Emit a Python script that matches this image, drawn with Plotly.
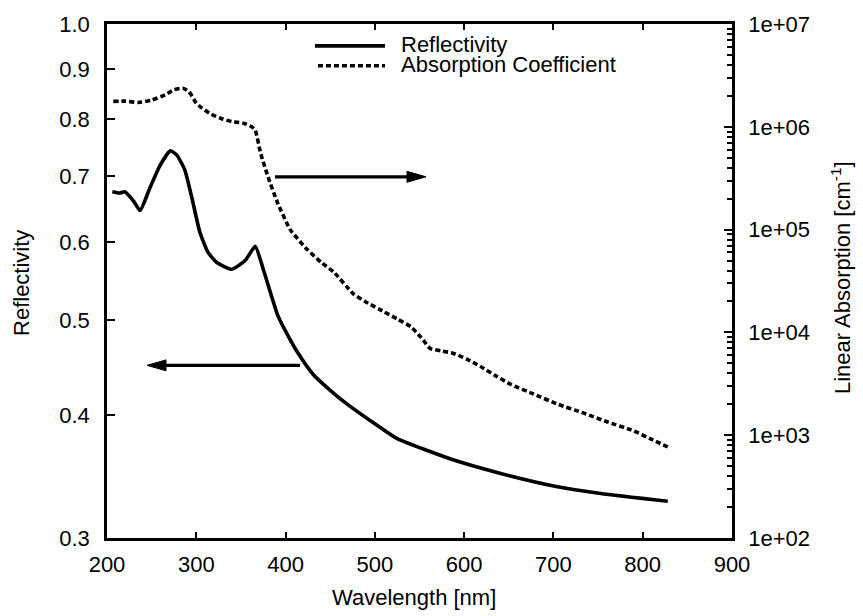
import math
import plotly.graph_objects as go

# ---- data ----
refl_wl = [206, 214, 220, 230, 237, 248, 259, 271, 278, 287, 295, 304, 313, 323, 340,
           355, 366, 375, 391, 400, 413, 431, 450, 469, 500, 525, 585, 641, 703, 753, 828]
refl = [0.675, 0.673, 0.675, 0.660, 0.646, 0.681, 0.717, 0.743, 0.736, 0.711, 0.666,
        0.614, 0.586, 0.572, 0.563, 0.575, 0.594, 0.563, 0.506, 0.487, 0.464, 0.440,
        0.424, 0.4105, 0.392, 0.3786, 0.361, 0.349, 0.3385, 0.333, 0.327]

abs_wl = [207, 220, 235, 250, 265, 275, 285, 292, 300, 304, 315, 327, 340, 353, 362, 366,
          372, 380, 391, 405, 424, 440, 454, 476, 489, 510, 525, 540, 552, 562, 575, 588,
          603, 618, 635, 652, 678, 705, 734, 760, 790, 810, 828]
absorption = [1.766e6, 1.778e6, 1.726e6, 1.820e6, 2.042e6, 2.291e6, 2.371e6, 2.188e6,
              1.698e6, 1.581e6, 1.349e6, 1.211e6, 1.122e6, 1.084e6, 1.0e6, 9.27e5,
              5.56e5, 3.33e5, 1.83e5, 1.005e5, 6.44e4, 4.79e4, 3.86e4, 2.37e4, 2.0e4,
              1.59e4, 1.35e4, 1.14e4, 8.9e3, 6.98e3, 6.6e3, 6.24e3, 5.5e3, 4.68e3,
              3.8e3, 3.13e3, 2.51e3, 2.0e3, 1.64e3, 1.35e3, 1.10e3, 9.1e2, 7.7e2]

x_ticks = [200, 300, 400, 500, 600, 700, 800, 900]
refl_ticks = [0.3, 0.4, 0.5, 0.6, 0.7, 0.8, 0.9, 1.0]
refl_tick_text = ["0.3", "0.4", "0.5", "0.6", "0.7", "0.8", "0.9", "1.0"]
abs_ticks = [1e2, 1e3, 1e4, 1e5, 1e6, 1e7]
abs_tick_text = ["1e+02", "1e+03", "1e+04", "1e+05", "1e+06", "1e+07"]

legend_names = ["Reflectivity", "Absorption Coefficient"]

FONT = "Liberation Sans, Arial, Helvetica, sans-serif"
FS = 22
LW = 3.6

fig = go.Figure()
fig.add_trace(go.Scatter(x=refl_wl, y=refl, mode="lines", name=legend_names[0],
                         line=dict(color="black", width=LW, shape="spline", smoothing=0.5),
                         showlegend=False, yaxis="y"))
fig.add_trace(go.Scatter(x=abs_wl, y=absorption, mode="lines", name=legend_names[1],
                         line=dict(color="black", width=LW, dash="5px,3px",
                                   shape="spline", smoothing=0.5),
                         showlegend=False, yaxis="y2"))

axis_common = dict(showline=True, linecolor="black", linewidth=2.6, ticks="inside",
                   tickcolor="black", tickwidth=2, showgrid=False, zeroline=False,
                   tickfont=dict(family=FONT, size=FS, color="black"))

fig.update_layout(
    width=863, height=616,
    margin=dict(l=107, r=131, t=20, b=78),
    paper_bgcolor="white", plot_bgcolor="white",
    xaxis=dict(range=[200, 900], tickvals=x_ticks, mirror="ticks", ticklen=6,
               ticklabelstandoff=5, **axis_common),
    yaxis=dict(type="log", range=[math.log10(0.3), 0.0], tickvals=refl_ticks,
               ticktext=refl_tick_text, mirror=True, ticklen=8,
               ticklabelstandoff=10, **axis_common),
    yaxis2=dict(type="log", range=[2, 7], tickvals=abs_ticks, ticktext=abs_tick_text,
                overlaying="y", side="right", ticklen=8, ticklabelstandoff=9,
                minor=dict(ticks="inside", ticklen=5, tickcolor="black", tickwidth=1.6,
                           dtick="D1", showgrid=False),
                **axis_common),
    showlegend=False,
)

def px_x(p):
    return (p - 107) / 625.0

def px_y(p):
    return (538 - p) / 518.0

annotations = [
    dict(text="Reflectivity", x=px_x(22), y=px_y(281), xref="paper", yref="paper",
         textangle=-90, showarrow=False, xanchor="center", yanchor="middle",
         font=dict(family=FONT, size=FS, color="black")),
    dict(text="Wavelength [nm]", x=px_x(414), y=px_y(598), xref="paper", yref="paper",
         showarrow=False, xanchor="center", yanchor="middle",
         font=dict(family=FONT, size=FS, color="black")),
    dict(text="Linear Absorption [cm<sup>-1</sup>]", x=px_x(841), y=px_y(276),
         xref="paper", yref="paper", textangle=-90, showarrow=False,
         xanchor="center", yanchor="middle",
         font=dict(family=FONT, size=FS, color="black")),
    # legend text
    dict(text=legend_names[0], x=px_x(399), y=px_y(41), xref="paper", yref="paper",
         showarrow=False, xanchor="left", yanchor="middle",
         font=dict(family=FONT, size=FS, color="black")),
    dict(text=legend_names[1], x=px_x(399), y=px_y(61), xref="paper", yref="paper",
         showarrow=False, xanchor="left", yanchor="middle",
         font=dict(family=FONT, size=FS, color="black")),
]
fig.update_layout(annotations=annotations)

def arrow(x_tail, x_tip, y, head_len=19, half_h=5.5, width=3.2):
    """Horizontal arrow drawn in paper coordinates from pixel positions."""
    sgn = 1 if x_tip > x_tail else -1
    base = x_tip - sgn * head_len
    return [
        dict(type="line", xref="paper", yref="paper", x0=px_x(x_tail), x1=px_x(base),
             y0=px_y(y), y1=px_y(y), line=dict(color="black", width=width)),
        dict(type="path", xref="paper", yref="paper",
             path="M {:.5f},{:.5f} L {:.5f},{:.5f} L {:.5f},{:.5f} Z".format(
                 px_x(x_tip), px_y(y), px_x(base), px_y(y - half_h),
                 px_x(base), px_y(y + half_h)),
             fillcolor="black", line=dict(color="black", width=1)),
    ]

shapes = [
    dict(type="line", xref="paper", yref="paper", x0=px_x(315), x1=px_x(385),
         y0=px_y(42), y1=px_y(42), line=dict(color="black", width=LW)),
    dict(type="line", xref="paper", yref="paper", x0=px_x(318), x1=px_x(385),
         y0=px_y(62), y1=px_y(62), line=dict(color="black", width=LW, dash="5px,3px")),
]
shapes += arrow(275, 426, 174)
shapes += arrow(300, 147, 364)
fig.update_layout(shapes=shapes)

fig.write_html("out.html")
